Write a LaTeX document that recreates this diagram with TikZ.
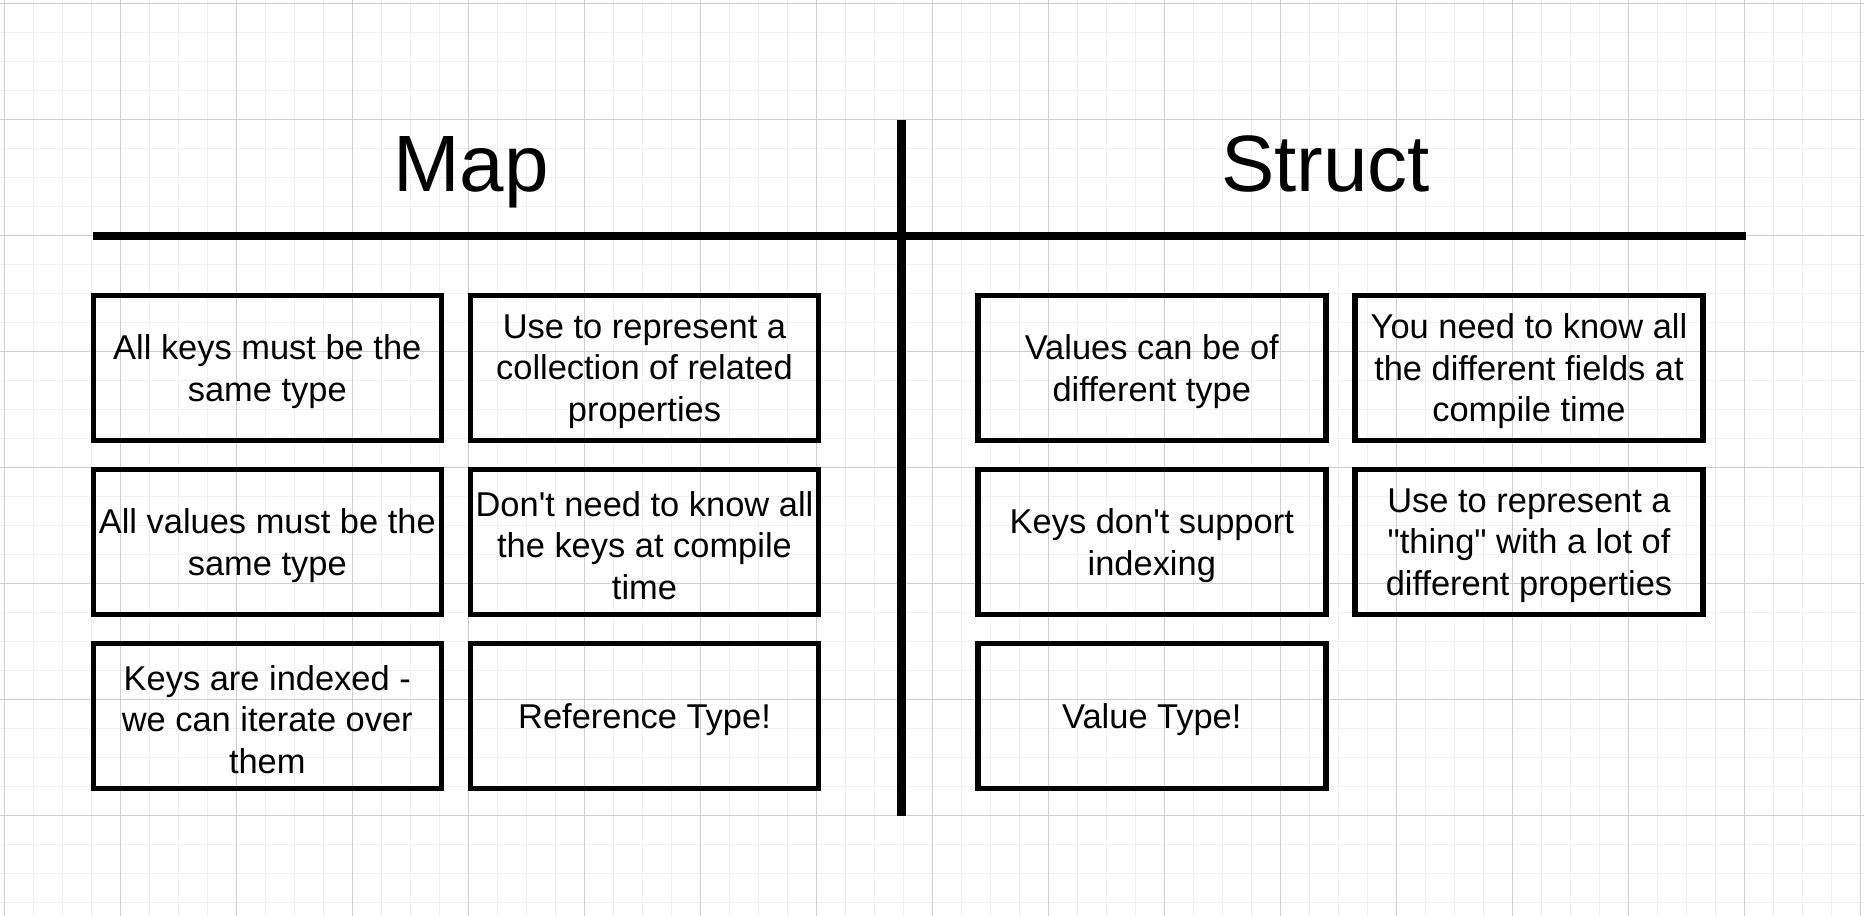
\documentclass[tikz,border=0pt]{standalone}
\usepackage{fontspec}
\setmainfont{Liberation Sans}[Ligatures=TeXOff]

\definecolor{gridminor}{RGB}{241,241,241}
\definecolor{gridmajor}{RGB}{206,206,206}

\begin{document}
\begin{tikzpicture}[x = 0.02cm, y = -0.02cm,
	card/.style = {draw = black,
				   line width = 0.11cm,
				   shape = rectangle,
				   minimum width = 6.96cm,
				   minimum height = 2.9cm,
				   inner sep = 0pt,
				   label = {[cardtext]center:{#1}}},
	cardtext/.style = {align = center,
					   inner sep = 0pt,
					   yshift = -0.07cm,
					   font = \fontsize{19.6}{23.7}\selectfont},
	heading/.style = {anchor = base,
					  font = \fontsize{45.5}{50}\selectfont}]

	\useasboundingbox[fill = white] (0,0) rectangle (1864,916);

	% paper grid
	\foreach \gx in {4,33,...,1864}
		\draw[gridminor, line width = 0.02cm] (\gx,0) -- (\gx,916);
	\foreach \gy in {3,32,...,916}
		\draw[gridminor, line width = 0.02cm] (0,\gy) -- (1864,\gy);
	\foreach \gx in {4,120,...,1864}
		\draw[gridmajor, line width = 0.02cm] (\gx,0) -- (\gx,916);
	\foreach \gy in {3,119,...,916}
		\draw[gridmajor, line width = 0.02cm] (0,\gy) -- (1864,\gy);

	% headings
	\draw (471,191.7) node[heading](map) {Map};
	\draw (1325.6,191.7) node[heading](struct) {Struct};

	\draw[line width = 0.16cm] (92.7,236.3) -- (1745.7,236.3);
	\draw[line width = 0.175cm] (901.5,120) -- (901.5,816);

	% map side
	\draw (267.3,367.9) node[card = {All keys must be the\\same type}](mapKeys) {};
	\draw (644.5,367.9) node[card = {Use to represent a\\collection of related\\properties}](mapRelated) {};
	\draw (267.3,541.9) node[card = {All values must be the\\same type}](mapValues) {};
	\draw (644.5,541.9) node[card = {Don't need to know all\\the keys at compile\\time}](mapDynamic) {};
	\draw (267.3,715.9) node[card = {Keys are indexed -\\we can iterate over\\them}](mapIndexed) {};
	\draw (644.5,715.9) node[card = {Reference Type!}](mapRef) {};

	% struct side
	\draw (1151.8,367.9) node[card = {Values can be of\\different type}](structTypes) {};
	\draw (1529,367.9) node[card = {You need to know all\\the different fields at\\compile time}](structFields) {};
	\draw (1151.8,541.9) node[card = {Keys don't support\\indexing}](structNoIndex) {};
	\draw (1529,541.9) node[card = {Use to represent a\\"thing" with a lot of\\different properties}](structThing) {};
	\draw (1151.8,715.9) node[card = {Value Type!}](structValue) {};

\end{tikzpicture}
\end{document}
